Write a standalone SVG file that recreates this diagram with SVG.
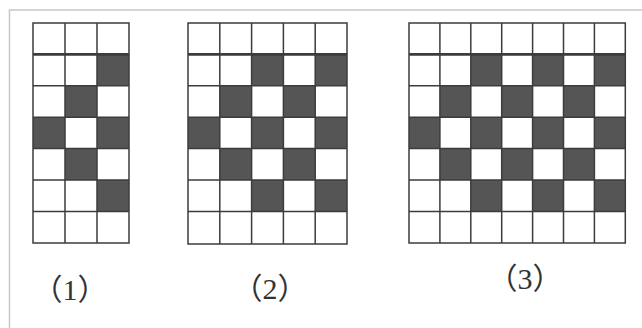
<svg xmlns="http://www.w3.org/2000/svg" width="642" height="328" viewBox="0 0 642 328">
<style>
.g{fill:none;stroke:#3c3c3c;stroke-width:1.5}
.t{stroke:#3c3c3c;stroke-width:2.6}
.d{fill:#555555}
.lbl{font-family:"Liberation Serif","Noto Sans CJK SC",serif;font-size:30px;fill:#333;text-anchor:middle}
.fr{stroke:#c8c8c8;stroke-width:1.5;fill:none}
</style>
<rect width="642" height="328" fill="#fff"/>
<path class="fr" d="M9.5,328 V10 H642"/>
<g id="grid1">
<g class="d">
<rect x="97" y="54.4" width="32" height="31.4"/>
<rect x="65" y="85.8" width="32" height="31.4"/>
<rect x="33" y="117.2" width="32" height="31.4"/>
<rect x="97" y="117.2" width="32" height="31.4"/>
<rect x="65" y="148.6" width="32" height="31.4"/>
<rect x="97" y="180" width="32" height="31.4"/>
</g>
<path class="g" d="M33,23 H129 V243 H33 Z M65,23 V243 M97,23 V243 M33,85.8 H129 M33,117.2 H129 M33,148.6 H129 M33,180 H129 M33,211.4 H129"/>
<path class="t" d="M33,54.4 H129"/>
<text class="lbl" x="70" y="300">（1）</text>
</g>
<g id="grid2">
<g class="d">
<rect x="251.6" y="54.4" width="31.8" height="31.4"/>
<rect x="315.2" y="54.4" width="31.8" height="31.4"/>
<rect x="219.8" y="85.8" width="31.8" height="31.4"/>
<rect x="283.4" y="85.8" width="31.8" height="31.4"/>
<rect x="188" y="117.2" width="31.8" height="31.4"/>
<rect x="251.6" y="117.2" width="31.8" height="31.4"/>
<rect x="315.2" y="117.2" width="31.8" height="31.4"/>
<rect x="219.8" y="148.6" width="31.8" height="31.4"/>
<rect x="283.4" y="148.6" width="31.8" height="31.4"/>
<rect x="251.6" y="180" width="31.8" height="31.4"/>
<rect x="315.2" y="180" width="31.8" height="31.4"/>
</g>
<path class="g" d="M188,23 H347 V244 H188 Z M219.8,23 V244 M251.6,23 V244 M283.4,23 V244 M315.2,23 V244 M188,85.8 H347 M188,117.2 H347 M188,148.6 H347 M188,180 H347 M188,211.4 H347"/>
<path class="t" d="M188,54.4 H347"/>
<text class="lbl" x="270" y="299">（2）</text>
</g>
<g id="grid3">
<g class="d">
<rect x="470.8" y="54.4" width="30.9" height="31.4"/>
<rect x="532.6" y="54.4" width="30.9" height="31.4"/>
<rect x="594.4" y="54.4" width="30.9" height="31.4"/>
<rect x="439.9" y="85.8" width="30.9" height="31.4"/>
<rect x="501.7" y="85.8" width="30.9" height="31.4"/>
<rect x="563.5" y="85.8" width="30.9" height="31.4"/>
<rect x="409" y="117.2" width="30.9" height="31.4"/>
<rect x="470.8" y="117.2" width="30.9" height="31.4"/>
<rect x="532.6" y="117.2" width="30.9" height="31.4"/>
<rect x="594.4" y="117.2" width="30.9" height="31.4"/>
<rect x="439.9" y="148.6" width="30.9" height="31.4"/>
<rect x="501.7" y="148.6" width="30.9" height="31.4"/>
<rect x="563.5" y="148.6" width="30.9" height="31.4"/>
<rect x="470.8" y="180" width="30.9" height="31.4"/>
<rect x="532.6" y="180" width="30.9" height="31.4"/>
<rect x="594.4" y="180" width="30.9" height="31.4"/>
</g>
<path class="g" d="M409,23 H625.3 V243 H409 Z M439.9,23 V243 M470.8,23 V243 M501.7,23 V243 M532.6,23 V243 M563.5,23 V243 M594.4,23 V243 M409,85.8 H625.3 M409,117.2 H625.3 M409,148.6 H625.3 M409,180 H625.3 M409,211.4 H625.3"/>
<path class="t" d="M409,54.4 H625.3"/>
<text class="lbl" x="525" y="289">（3）</text>
</g>
</svg>
